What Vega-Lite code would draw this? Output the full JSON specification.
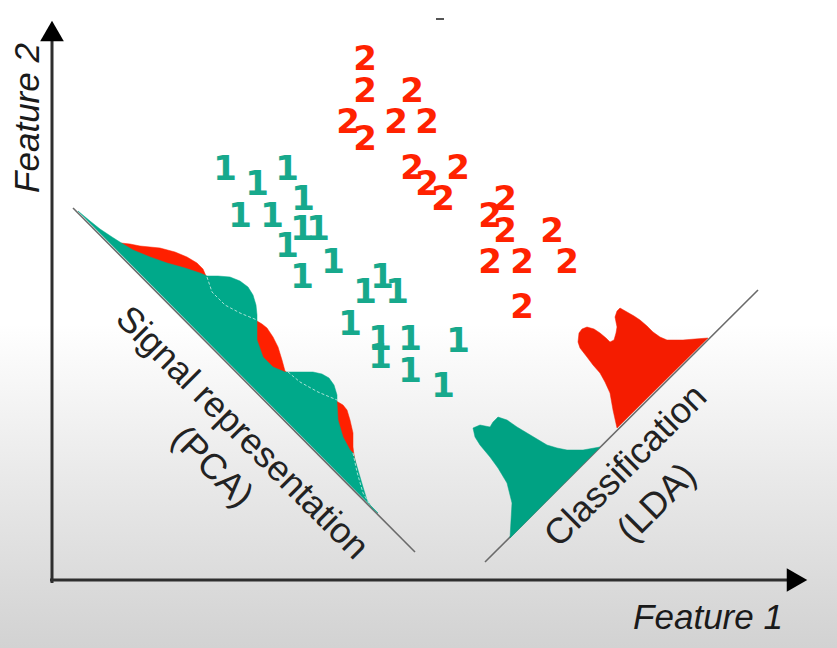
{
  "$schema": "https://vega.github.io/schema/vega-lite/v6.json",
  "width": 837,
  "height": 648,
  "autosize": {"type": "fit", "contains": "padding"},
  "padding": 0,
  "background": "#ffffff",
  "config": {"view": {"stroke": null}},
  "datasets": {
    "poly": [
      {"s":"pr","i":0,"x":121,"y":243},{"s":"pr","i":1,"x":130,"y":244},{"s":"pr","i":2,"x":140,"y":246},{"s":"pr","i":3,"x":150,"y":247},{"s":"pr","i":4,"x":160,"y":248},{"s":"pr","i":5,"x":175,"y":252},{"s":"pr","i":6,"x":187,"y":257},{"s":"pr","i":7,"x":197,"y":263},{"s":"pr","i":8,"x":203,"y":269},{"s":"pr","i":9,"x":206,"y":276},{"s":"pr","i":10,"x":213,"y":292},{"s":"pr","i":11,"x":228,"y":306},{"s":"pr","i":12,"x":245,"y":316},{"s":"pr","i":13,"x":257,"y":321},{"s":"pr","i":14,"x":262,"y":324},{"s":"pr","i":15,"x":267,"y":328},{"s":"pr","i":16,"x":273,"y":337},{"s":"pr","i":17,"x":278,"y":347},{"s":"pr","i":18,"x":282,"y":360},{"s":"pr","i":19,"x":285,"y":371},{"s":"pr","i":20,"x":300,"y":383},{"s":"pr","i":21,"x":320,"y":393},{"s":"pr","i":22,"x":338,"y":402},{"s":"pr","i":23,"x":343,"y":405},{"s":"pr","i":24,"x":347,"y":410},{"s":"pr","i":25,"x":350,"y":420},{"s":"pr","i":26,"x":353,"y":433},{"s":"pr","i":27,"x":353,"y":447},{"s":"pr","i":28,"x":354,"y":455},{"s":"pr","i":29,"x":357,"y":470},{"s":"pr","i":30,"x":360,"y":490},
      {"s":"pg","i":0,"x":78,"y":211},{"s":"pg","i":1,"x":90,"y":221},{"s":"pg","i":2,"x":100,"y":229},{"s":"pg","i":3,"x":112,"y":237},{"s":"pg","i":4,"x":123,"y":244},{"s":"pg","i":5,"x":133,"y":250},{"s":"pg","i":6,"x":150,"y":257},{"s":"pg","i":7,"x":167,"y":263},{"s":"pg","i":8,"x":185,"y":268},{"s":"pg","i":9,"x":200,"y":273},{"s":"pg","i":10,"x":207,"y":276},{"s":"pg","i":11,"x":218,"y":276},{"s":"pg","i":12,"x":230,"y":277},{"s":"pg","i":13,"x":240,"y":281},{"s":"pg","i":14,"x":248,"y":287},{"s":"pg","i":15,"x":253,"y":295},{"s":"pg","i":16,"x":256,"y":305},{"s":"pg","i":17,"x":257,"y":315},{"s":"pg","i":18,"x":257,"y":325},{"s":"pg","i":19,"x":257,"y":340},{"s":"pg","i":20,"x":263,"y":357},{"s":"pg","i":21,"x":273,"y":367},{"s":"pg","i":22,"x":285,"y":372},{"s":"pg","i":23,"x":300,"y":372},{"s":"pg","i":24,"x":313,"y":372},{"s":"pg","i":25,"x":322,"y":374},{"s":"pg","i":26,"x":329,"y":378},{"s":"pg","i":27,"x":334,"y":385},{"s":"pg","i":28,"x":337,"y":395},{"s":"pg","i":29,"x":337,"y":403},{"s":"pg","i":30,"x":338,"y":420},{"s":"pg","i":31,"x":343,"y":437},{"s":"pg","i":32,"x":350,"y":450},{"s":"pg","i":33,"x":353,"y":453},{"s":"pg","i":34,"x":358,"y":470},{"s":"pg","i":35,"x":363,"y":487},{"s":"pg","i":36,"x":367,"y":500},{"s":"pg","i":37,"x":372,"y":508},{"s":"pg","i":38,"x":378,"y":513},
      {"s":"lg","i":0,"x":510,"y":538},{"s":"lg","i":1,"x":512,"y":503},{"s":"lg","i":2,"x":507,"y":483},{"s":"lg","i":3,"x":498,"y":468},{"s":"lg","i":4,"x":490,"y":457},{"s":"lg","i":5,"x":480,"y":445},{"s":"lg","i":6,"x":475,"y":437},{"s":"lg","i":7,"x":473,"y":428},{"s":"lg","i":8,"x":480,"y":425},{"s":"lg","i":9,"x":490,"y":427},{"s":"lg","i":10,"x":493,"y":422},{"s":"lg","i":11,"x":498,"y":417},{"s":"lg","i":12,"x":507,"y":420},{"s":"lg","i":13,"x":517,"y":427},{"s":"lg","i":14,"x":527,"y":433},{"s":"lg","i":15,"x":537,"y":439},{"s":"lg","i":16,"x":547,"y":445},{"s":"lg","i":17,"x":557,"y":448},{"s":"lg","i":18,"x":567,"y":450},{"s":"lg","i":19,"x":583,"y":450},{"s":"lg","i":20,"x":600,"y":447},
      {"s":"lr","i":0,"x":617,"y":428},{"s":"lr","i":1,"x":613,"y":410},{"s":"lr","i":2,"x":610,"y":393},{"s":"lr","i":3,"x":605,"y":382},{"s":"lr","i":4,"x":600,"y":373},{"s":"lr","i":5,"x":593,"y":365},{"s":"lr","i":6,"x":587,"y":357},{"s":"lr","i":7,"x":580,"y":348},{"s":"lr","i":8,"x":578,"y":342},{"s":"lr","i":9,"x":579,"y":333},{"s":"lr","i":10,"x":582,"y":329},{"s":"lr","i":11,"x":587,"y":327},{"s":"lr","i":12,"x":594,"y":329},{"s":"lr","i":13,"x":600,"y":333},{"s":"lr","i":14,"x":606,"y":338},{"s":"lr","i":15,"x":610,"y":342},{"s":"lr","i":16,"x":614,"y":340},{"s":"lr","i":17,"x":616,"y":333},{"s":"lr","i":18,"x":617,"y":327},{"s":"lr","i":19,"x":615,"y":317},{"s":"lr","i":20,"x":617,"y":311},{"s":"lr","i":21,"x":620,"y":308},{"s":"lr","i":22,"x":627,"y":312},{"s":"lr","i":23,"x":634,"y":316},{"s":"lr","i":24,"x":640,"y":320},{"s":"lr","i":25,"x":647,"y":326},{"s":"lr","i":26,"x":653,"y":332},{"s":"lr","i":27,"x":660,"y":337},{"s":"lr","i":28,"x":667,"y":340},{"s":"lr","i":29,"x":683,"y":340},{"s":"lr","i":30,"x":695,"y":339},{"s":"lr","i":31,"x":708,"y":338}
    ],
    "dashes": [
      {"s":"d2","i":0,"x":207,"y":277},{"s":"d2","i":1,"x":212,"y":292},{"s":"d2","i":2,"x":225,"y":305},{"s":"d2","i":3,"x":240,"y":313},{"s":"d2","i":4,"x":257,"y":320},
      {"s":"d3","i":0,"x":288,"y":372},{"s":"d3","i":1,"x":300,"y":382},{"s":"d3","i":2,"x":318,"y":392},{"s":"d3","i":3,"x":337,"y":400},
      {"s":"d4","i":0,"x":353,"y":453},{"s":"d4","i":1,"x":357,"y":472},{"s":"d4","i":2,"x":363,"y":493},{"s":"d4","i":3,"x":370,"y":505}
    ],
    "digits": [
      {"c":"2","x":365,"y":60},{"c":"2","x":365,"y":92},{"c":"2","x":412,"y":92},{"c":"2","x":348,"y":123},{"c":"2","x":365,"y":140},{"c":"2","x":396,"y":123},{"c":"2","x":427,"y":123},{"c":"2","x":412,"y":169},{"c":"2","x":427,"y":185},{"c":"2","x":443,"y":200},{"c":"2","x":458,"y":169},{"c":"2","x":505,"y":200},{"c":"2","x":490,"y":217},{"c":"2","x":505,"y":232},{"c":"2","x":552,"y":232},{"c":"2","x":490,"y":263},{"c":"2","x":522,"y":263},{"c":"2","x":567,"y":263},{"c":"2","x":522,"y":308},
      {"c":"1","x":225,"y":170},{"c":"1","x":257,"y":185},{"c":"1","x":287,"y":170},{"c":"1","x":303,"y":200},{"c":"1","x":240,"y":217},{"c":"1","x":272,"y":217},{"c":"1","x":302,"y":230},{"c":"1","x":318,"y":230},{"c":"1","x":287,"y":247},{"c":"1","x":333,"y":263},{"c":"1","x":302,"y":278},{"c":"1","x":365,"y":293},{"c":"1","x":382,"y":278},{"c":"1","x":397,"y":293},{"c":"1","x":350,"y":325},{"c":"1","x":380,"y":340},{"c":"1","x":380,"y":358},{"c":"1","x":410,"y":340},{"c":"1","x":410,"y":372},{"c":"1","x":458,"y":342},{"c":"1","x":443,"y":387}
    ]
  },
  "encoding": {
    "x": {"field": "x", "type": "quantitative", "scale": {"domain": [0, 837], "nice": false, "zero": false}, "axis": null},
    "y": {"field": "y", "type": "quantitative", "scale": {"domain": [0, 648], "reverse": true, "nice": false, "zero": false}, "axis": null}
  },
  "layer": [
    {
      "data": {"values": [{"x": 0, "y": 0, "x2": 837, "y2": 648}]},
      "mark": {"type": "rect", "color": {"gradient": "linear", "x1": 0, "y1": 0, "x2": 0, "y2": 1, "stops": [{"offset": 0, "color": "#ffffff"}, {"offset": 0.5, "color": "#ffffff"}, {"offset": 0.75, "color": "#e8e8e8"}, {"offset": 1, "color": "#d2d2d2"}]}},
      "encoding": {"x2": {"field": "x2"}, "y2": {"field": "y2"}}
    },
    {
      "data": {"values": [{"x": 52, "y": 583, "x2": 52, "y2": 38}, {"x": 50, "y": 580, "x2": 790, "y2": 580}]},
      "mark": {"type": "rule", "color": "#2e2e2e", "strokeWidth": 3},
      "encoding": {"x2": {"field": "x2"}, "y2": {"field": "y2"}}
    },
    {
      "data": {"values": [{"x": 52, "y": 31, "d": "up"}, {"x": 797, "y": 580, "d": "right"}]},
      "mark": {"type": "point", "filled": true, "color": "#000000", "size": 560, "opacity": 1},
      "encoding": {"shape": {"field": "d", "type": "nominal", "scale": {"domain": ["up", "right"], "range": ["triangle-up", "triangle-right"]}, "legend": null}}
    },
    {
      "data": {"values": [{"x": 436, "y": 19, "x2": 444, "y2": 19}]},
      "mark": {"type": "rule", "color": "#555555", "strokeWidth": 2},
      "encoding": {"x2": {"field": "x2"}, "y2": {"field": "y2"}}
    },
    {
      "data": {"values": [{"x": 73, "y": 208, "x2": 415, "y2": 552}, {"x": 485, "y": 562, "x2": 758, "y2": 290}]},
      "mark": {"type": "rule", "color": "#6a6a6a", "strokeWidth": 1.6},
      "encoding": {"x2": {"field": "x2"}, "y2": {"field": "y2"}}
    },
    {
      "data": {"name": "poly"},
      "transform": [{"filter": "datum.s == 'pr'"}],
      "mark": {"type": "line", "interpolate": "linear-closed", "fill": "#ff2000", "stroke": "#ff2000", "strokeWidth": 0.5},
      "encoding": {"order": {"field": "i", "type": "quantitative"}}
    },
    {
      "data": {"name": "poly"},
      "transform": [{"filter": "datum.s == 'pg'"}],
      "mark": {"type": "line", "interpolate": "linear-closed", "fill": "#00a98a", "stroke": "#00a98a", "strokeWidth": 0.5},
      "encoding": {"order": {"field": "i", "type": "quantitative"}}
    },
    {
      "data": {"name": "poly"},
      "transform": [{"filter": "datum.s == 'lg'"}],
      "mark": {"type": "line", "interpolate": "linear-closed", "fill": "#00a283", "stroke": "#00a283", "strokeWidth": 0.5},
      "encoding": {"order": {"field": "i", "type": "quantitative"}}
    },
    {
      "data": {"name": "poly"},
      "transform": [{"filter": "datum.s == 'lr'"}],
      "mark": {"type": "line", "interpolate": "linear-closed", "fill": "#f51c00", "stroke": "#f51c00", "strokeWidth": 0.5},
      "encoding": {"order": {"field": "i", "type": "quantitative"}}
    },
    {
      "data": {"name": "dashes"},
      "mark": {"type": "line", "stroke": "#cfeee6", "strokeWidth": 1, "strokeDash": [3, 2], "opacity": 0.8},
      "encoding": {"detail": {"field": "s", "type": "nominal"}, "order": {"field": "i", "type": "quantitative"}}
    },
    {
      "data": {"name": "digits"},
      "mark": {"type": "text", "font": "DejaVu Sans", "fontWeight": "bold", "fontSize": 34, "align": "center", "baseline": "middle"},
      "encoding": {
        "text": {"field": "c", "type": "nominal"},
        "color": {"field": "c", "type": "nominal", "scale": {"domain": ["1", "2"], "range": ["#17a98c", "#ff2200"]}, "legend": null}
      }
    },
    {
      "data": {"values": [{"x": 242, "y": 433, "t": "Signal representation"}, {"x": 212, "y": 467, "t": "(PCA)"}]},
      "mark": {"type": "text", "font": "Liberation Sans", "fontSize": 36, "angle": 45, "align": "center", "baseline": "middle", "color": "#222222"},
      "encoding": {"text": {"field": "t"}}
    },
    {
      "data": {"values": [{"x": 626, "y": 466, "t": "Classification"}, {"x": 657, "y": 503, "t": "(LDA)"}]},
      "mark": {"type": "text", "font": "Liberation Sans", "fontSize": 36, "angle": -45, "align": "center", "baseline": "middle", "color": "#222222"},
      "encoding": {"text": {"field": "t"}}
    },
    {
      "data": {"values": [{"x": 708, "y": 618, "t": "Feature 1"}]},
      "mark": {"type": "text", "font": "Liberation Sans", "fontSize": 35, "fontStyle": "italic", "align": "center", "baseline": "middle", "color": "#1a1a1a"},
      "encoding": {"text": {"field": "t"}}
    },
    {
      "data": {"values": [{"x": 28, "y": 118, "t": "Feature 2"}]},
      "mark": {"type": "text", "font": "Liberation Sans", "fontSize": 35, "fontStyle": "italic", "angle": -90, "align": "center", "baseline": "middle", "color": "#1a1a1a"},
      "encoding": {"text": {"field": "t"}}
    }
  ]
}
